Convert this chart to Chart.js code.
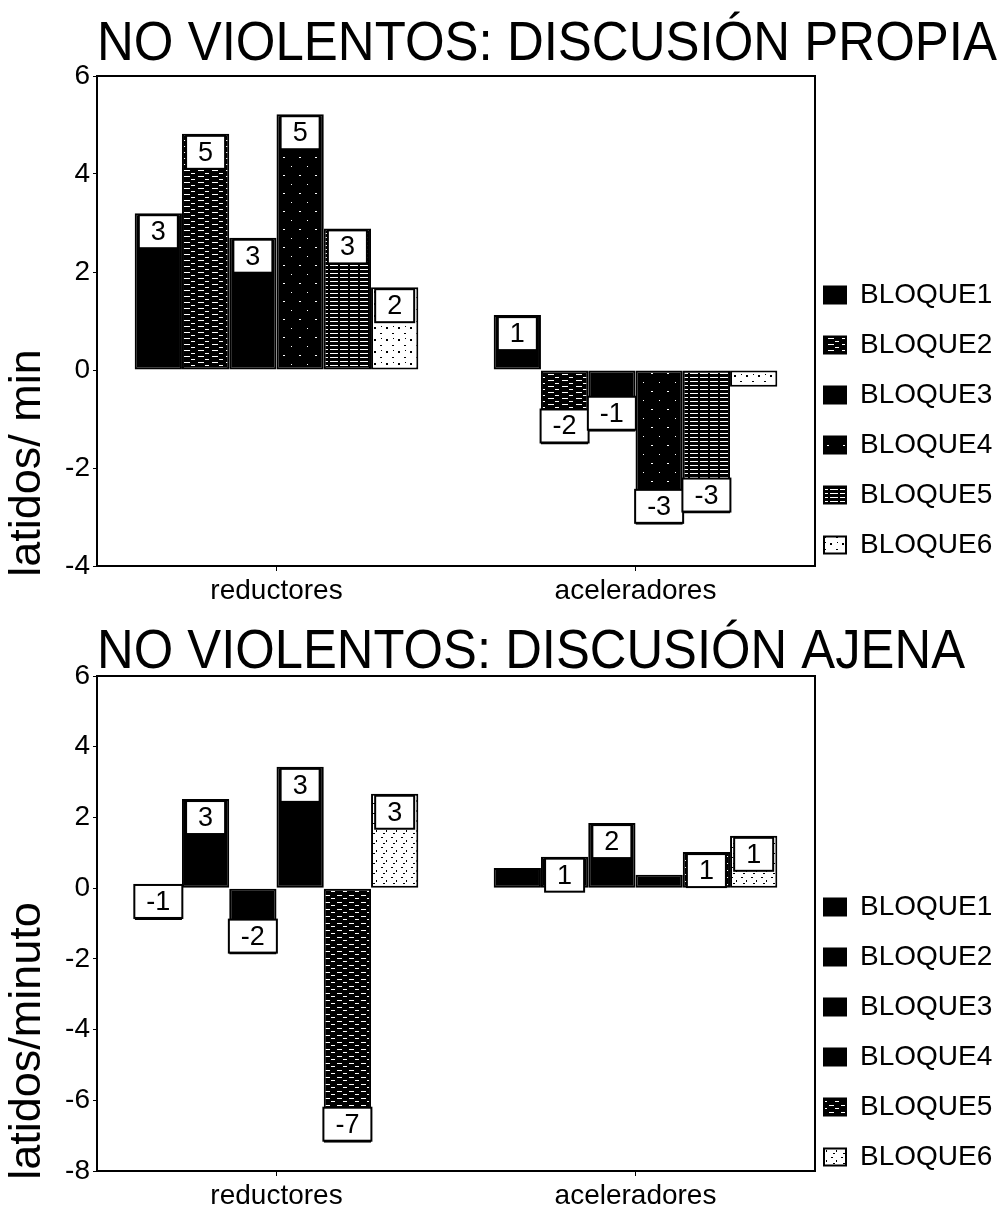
<!DOCTYPE html>
<html lang="es">
<head>
<meta charset="utf-8">
<title>No violentos</title>
<script src="https://cdn.jsdelivr.net/npm/chart.js@4.4.1/dist/chart.umd.min.js"></script>
<style>
  body { margin: 0; background: #fff; }
  .caja { position: relative; width: 1006px; height: 605px; }
</style>
</head>
<body>
<div class="caja"><canvas id="propia"></canvas></div>
<div class="caja"><canvas id="ajena"></canvas></div>
<script>
// categorias y series
const categorias = ["reductores", "aceleradores"];
const bloques = ["BLOQUE1", "BLOQUE2", "BLOQUE3", "BLOQUE4", "BLOQUE5", "BLOQUE6"];

// discusion propia (latidos/min) -> [reductores, aceleradores]
const propia1 = [3.20, 1.12];
const propia2 = [4.82, -1.52];
const propia3 = [2.70, -1.26];
const propia4 = [5.22, -3.16];
const propia5 = [2.89, -2.93];
const propia6 = [1.69, -0.34];
// etiquetas que salen en cada barra (null = sin etiqueta)
const etiqPropia1 = ["3", "1"];
const etiqPropia2 = ["5", "-2"];
const etiqPropia3 = ["3", "-1"];
const etiqPropia4 = ["5", "-3"];
const etiqPropia5 = ["3", "-3"];
const etiqPropia6 = ["2", null];

// discusion ajena (latidos/minuto)
const ajena1 = [-0.90, 0.57];
const ajena2 = [2.52, 0.89];
const ajena3 = [-1.88, 1.84];
const ajena4 = [3.43, 0.38];
const ajena5 = [-7.20, 1.02];
const ajena6 = [2.67, 1.48];
const etiqAjena1 = ["-1", null];
const etiqAjena2 = ["3", "1"];
const etiqAjena3 = ["-2", "2"];
const etiqAjena4 = ["3", null];
const etiqAjena5 = ["-7", "1"];
const etiqAjena6 = ["3", "1"];

// marcas del eje y
const ticksPropia = [-4, -2, 0, 2, 4, 6];
const ticksAjena = [-8, -6, -4, -2, 0, 2, 4, 6];

const FUENTE = '"Liberation Sans", Arial, sans-serif';
Chart.defaults.font.family = FUENTE;
Chart.defaults.color = "#000";

// tramas en blanco y negro (como el original fotocopiado)
function patron(w, h, fondo, tinta, marcas) {
  const c = document.createElement("canvas");
  c.width = w;
  c.height = h;
  const g = c.getContext("2d");
  g.fillStyle = fondo;
  g.fillRect(0, 0, w, h);
  g.fillStyle = tinta;
  marcas.forEach(m => g.fillRect(m[0], m[1], m[2], m[3]));
  return g.createPattern(c, "repeat");
}
const negro = "#000";
const guiones = patron(14, 6, "#000", "#fff", [[2, 2, 6, 1], [9, 5, 4, 1]]);
const motas = patron(16, 18, "#000", "#fff", [[3, 4, 1, 1], [11, 13, 2, 1]]);
const lineas = patron(10, 4, "#000", "#fff", [[0, 1, 8, 1]]);
const puntos = patron(12, 12, "#fff", "#000", [[2, 3, 2, 2], [8, 9, 2, 1], [9, 2, 1, 1]]);
const guiones2 = patron(12, 7, "#000", "#fff", [[1, 3, 5, 1], [7, 6, 4, 1]]);
const garabatos = patron(10, 10, "#fff", "#000", [[1, 2, 2, 1], [6, 5, 1, 2], [3, 8, 2, 1]]);

// marco del area del grafico
const marco = {
  id: "marco",
  afterDraw(chart) {
    const { ctx, chartArea: a } = chart;
    ctx.save();
    ctx.strokeStyle = "#000";
    ctx.lineWidth = 2;
    ctx.strokeRect(a.left, a.top, a.right - a.left, a.bottom - a.top);
    ctx.restore();
  }
};

// cajitas blancas con el valor redondeado
const etiquetasBarras = {
  id: "etiquetasBarras",
  afterDatasetsDraw(chart) {
    const ctx = chart.ctx;
    ctx.save();
    ctx.font = "27px " + FUENTE;
    chart.data.datasets.forEach((ds, i) => {
      chart.getDatasetMeta(i).data.forEach((bar, j) => {
        const txt = ds.etiquetas[j];
        if (!txt) return;
        const w = Math.min(ctx.measureText(txt).width + 24, bar.width + 2);
        const h = 33;
        const top = bar.y < bar.base ? bar.y + 2 : bar.y - 2 - h;
        ctx.fillStyle = "#fff";
        ctx.fillRect(bar.x - w / 2, top, w, h);
        ctx.strokeStyle = "#000";
        ctx.lineWidth = 2;
        ctx.strokeRect(bar.x - w / 2, top, w, h);
        ctx.fillStyle = "#000";
        ctx.textAlign = "center";
        ctx.textBaseline = "middle";
        ctx.fillText(txt, bar.x, top + h / 2 + 1);
      });
    });
    ctx.restore();
  }
};

// titulo grande y titulo del eje y
const textos = {
  id: "textos",
  afterDraw(chart) {
    const o = chart.options.plugins.textos;
    const ctx = chart.ctx;
    ctx.save();
    ctx.fillStyle = "#000";
    ctx.font = "55px " + FUENTE;
    ctx.textAlign = "center";
    ctx.textBaseline = "alphabetic";
    ctx.fillText(o.titulo, o.tituloX, o.tituloBase, o.tituloAncho);
    ctx.translate(28, o.ejeY);
    ctx.rotate(-Math.PI / 2);
    ctx.font = "45px " + FUENTE;
    ctx.textBaseline = "middle";
    ctx.fillText(o.tituloEje, 0, 0);
    ctx.restore();
  }
};

// la leyenda va mas abajo, pegada al marco
const moverLeyenda = {
  id: "moverLeyenda",
  afterLayout(chart) {
    const l = chart.legend;
    const alto = l.bottom - l.top;
    l.left -= 13;
    l.right -= 13;
    l.top = chart.options.plugins.moverLeyenda.arriba;
    l.bottom = l.top + alto;
  }
};

function dibujarGrafico(id, arribaGrafico, textosOpc, arriba, ticks, series, etiquetas, rellenos) {
  const datasets = bloques.map((b, i) => ({
    label: b,
    data: series[i],
    etiquetas: etiquetas[i],
    backgroundColor: rellenos[i],
    borderColor: "#000",
    borderWidth: 2,
    borderSkipped: false
  }));
  return new Chart(document.getElementById(id), {
    type: "bar",
    data: { labels: categorias, datasets: datasets },
    options: {
      responsive: true,
      maintainAspectRatio: false,
      animation: false,
      layout: { padding: { top: arribaGrafico, left: 0, right: 0, bottom: 0 } },
      datasets: { bar: { categoryPercentage: 0.79, barPercentage: 1 } },
      scales: {
        x: {
          grid: { drawOnChartArea: false, offset: false, tickLength: 5, color: "#000" },
          border: { display: true, color: "#000", width: 2 },
          ticks: { font: { size: 28 }, color: "#000", padding: 3 },
          afterFit: s => { s.height = 39; }
        },
        y: {
          min: ticks[0],
          max: ticks[ticks.length - 1],
          grid: { drawOnChartArea: false, tickLength: 4, color: "#000" },
          border: { display: true, color: "#000", width: 2 },
          ticks: { stepSize: 2, font: { size: 28 }, color: "#000", padding: 3 },
          afterFit: s => { s.width = 97; }
        }
      },
      plugins: {
        legend: {
          position: "right",
          align: "start",
          fullSize: false,
          maxWidth: 191,
          labels: { boxWidth: 22, boxHeight: 17, padding: 22, font: { size: 28 }, color: "#000" }
        },
        tooltip: { enabled: false },
        textos: textosOpc,
        moverLeyenda: { arriba: arriba }
      }
    },
    plugins: [marco, etiquetasBarras, textos, moverLeyenda]
  });
}

dibujarGrafico(
  "propia",
  76,
  { titulo: "NO VIOLENTOS: DISCUSIÓN PROPIA", tituloX: 547, tituloBase: 60, tituloAncho: 900, tituloEje: "latidos/ min", ejeY: 463 },
  259,
  ticksPropia,
  [propia1, propia2, propia3, propia4, propia5, propia6],
  [etiqPropia1, etiqPropia2, etiqPropia3, etiqPropia4, etiqPropia5, etiqPropia6],
  [negro, guiones, negro, motas, lineas, puntos]
);

dibujarGrafico(
  "ajena",
  71,
  { titulo: "NO VIOLENTOS: DISCUSIÓN AJENA", tituloX: 531, tituloBase: 63, tituloAncho: 868, tituloEje: "latidos/minuto", ejeY: 436 },
  266,
  ticksAjena,
  [ajena1, ajena2, ajena3, ajena4, ajena5, ajena6],
  [etiqAjena1, etiqAjena2, etiqAjena3, etiqAjena4, etiqAjena5, etiqAjena6],
  [negro, negro, negro, negro, guiones2, garabatos]
);
</script>
</body>
</html>
